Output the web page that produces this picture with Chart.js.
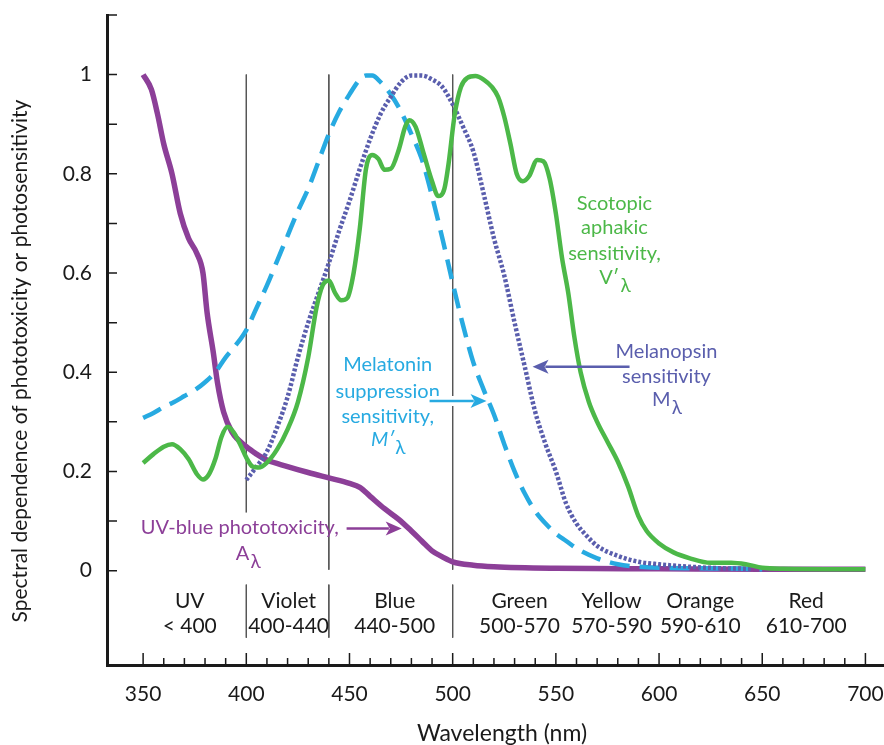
<!DOCTYPE html>
<html lang="en">
<head>
  <meta charset="UTF-8" />
  <title>Spectral dependence of phototoxicity or photosensitivity</title>
  <style>
    html, body { margin: 0; padding: 0; background: #fff; }
    #wrap { width: 884px; height: 745px; }
  </style>
</head>
<body>
  <div id="wrap"><canvas id="grafico" width="884" height="745"></canvas></div>

  <script src="https://cdn.jsdelivr.net/npm/chart.js"></script>
  <script>
    // UV-blue phototoxicity, A(lambda)
    const aWl  = [350, 354, 357, 360, 364, 368, 372, 376, 379, 381, 384, 386, 389, 393, 400, 405, 410, 420, 430, 440, 450, 455, 460, 467, 474, 480, 485, 490, 495, 500, 510, 520, 550, 600, 650, 700];
    const aVal = [1.0, 0.97, 0.92, 0.86, 0.8, 0.72, 0.67, 0.64, 0.6, 0.52, 0.44, 0.38, 0.32, 0.28, 0.25, 0.235, 0.223, 0.21, 0.198, 0.187, 0.176, 0.168, 0.15, 0.125, 0.103, 0.08, 0.06, 0.04, 0.028, 0.018, 0.011, 0.008, 0.005, 0.004, 0.003, 0.003];

    // Scotopic aphakic sensitivity, V'(lambda)
    const vWl  = [350, 355, 360, 364, 368, 372, 376, 379, 382, 385, 388, 391, 394, 397, 400, 403, 406, 410, 415, 420, 425, 430, 434, 437, 440, 443, 446, 449, 452, 455, 458, 461, 464, 467, 470, 474, 477, 479, 482, 486, 490, 493, 496, 498, 501, 504, 507, 511, 515, 519, 522, 525, 528, 531, 534, 537, 541, 544, 547, 550, 553, 556, 559, 562, 566, 570, 575, 580, 585, 590, 594, 600, 607, 615, 625, 635, 642, 650, 660, 700];
    const vVal = [0.217, 0.235, 0.25, 0.255, 0.245, 0.225, 0.195, 0.184, 0.195, 0.225, 0.27, 0.29, 0.278, 0.255, 0.228, 0.21, 0.208, 0.218, 0.245, 0.285, 0.34, 0.43, 0.53, 0.575, 0.585, 0.56, 0.545, 0.55, 0.6, 0.69, 0.81, 0.838, 0.83, 0.808, 0.81, 0.85, 0.895, 0.908, 0.895, 0.84, 0.785, 0.755, 0.77, 0.82, 0.92, 0.975, 0.993, 0.997, 0.99, 0.975, 0.955, 0.915, 0.86, 0.8, 0.785, 0.795, 0.828, 0.825, 0.79, 0.72, 0.63, 0.56, 0.47, 0.4, 0.34, 0.3, 0.26, 0.22, 0.17, 0.11, 0.08, 0.055, 0.037, 0.025, 0.016, 0.016, 0.013, 0.006, 0.004, 0.003];

    // Melatonin suppression sensitivity, M'(lambda)
    const mlWl  = [350, 355, 360, 365, 370, 375, 380, 385, 390, 395, 400, 405, 410, 415, 420, 425, 430, 435, 440, 445, 450, 455, 458, 461, 465, 470, 475, 480, 485, 490, 495, 500, 505, 510, 515, 520, 525, 530, 535, 540, 545, 550, 555, 560, 570, 580, 590, 600, 620, 640, 650];
    const mlVal = [0.308, 0.318, 0.33, 0.34, 0.352, 0.364, 0.38, 0.4, 0.43, 0.455, 0.485, 0.53, 0.575, 0.625, 0.675, 0.725, 0.77, 0.825, 0.88, 0.925, 0.96, 0.99, 0.998, 0.998, 0.985, 0.96, 0.925, 0.88, 0.83, 0.755, 0.67, 0.58, 0.495, 0.42, 0.365, 0.315, 0.255, 0.2, 0.155, 0.12, 0.095, 0.075, 0.06, 0.045, 0.025, 0.013, 0.008, 0.006, 0.005, 0.004, 0.003];

    // Melanopsin sensitivity, M(lambda)
    const mnWl  = [400, 405, 410, 415, 420, 425, 430, 435, 440, 445, 450, 455, 460, 465, 470, 475, 480, 485, 490, 495, 500, 505, 510, 515, 520, 525, 530, 535, 540, 545, 550, 555, 560, 565, 570, 580, 590, 600, 615, 630, 645];
    const mnVal = [0.183, 0.21, 0.24, 0.29, 0.35, 0.43, 0.5, 0.56, 0.62, 0.685, 0.745, 0.81, 0.87, 0.92, 0.955, 0.985, 0.998, 0.998, 0.99, 0.975, 0.94, 0.895, 0.845, 0.76, 0.67, 0.595, 0.5, 0.41, 0.32, 0.255, 0.2, 0.135, 0.095, 0.07, 0.05, 0.03, 0.018, 0.013, 0.008, 0.005, 0.004];

    // faixas de cor
    const bandLimits = [400, 440, 500];
    const bandNames  = ['UV', 'Violet', 'Blue', 'Green', 'Yellow', 'Orange', 'Red'];
    const bandRanges = ['< 400', '400-440', '440-500', '500-570', '570-590', '590-610', '610-700'];

    const xTicks = [350, 360, 370, 380, 390, 400, 410, 420, 430, 440, 450, 460, 470, 480, 490, 500, 510, 520, 530, 540, 550, 560, 570, 580, 590, 600, 610, 620, 630, 640, 650, 660, 670, 680, 690, 700];
    const yTicks = [0, 0.1, 0.2, 0.3, 0.4, 0.5, 0.6, 0.7, 0.8, 0.9, 1.0, 1.12];

    const FONT = 'Lato, "Open Sans", sans-serif';
    const PRETO = '#1a1a1a';
    const ROXO = '#8c3f98';
    const VERDE = '#4cb848';
    const AZUL = '#27aae1';
    const ANIL = '#5a5ead';

    const pares = (wl, val) => wl.map((w, i) => ({ x: w, y: val[i] }));

    // posicoes dos textos em coordenadas de dados (nm, valor)
    const bandLabelX = [372.6, 420.5, 471.9, 532.4, 577, 620, 671.3];
    const bandLabelY = [-0.062, -0.111];

    const rotulos = [
      { cor: VERDE, x: 578.4, y: [0.741, 0.691, 0.640], linhas: ['Scotopic', 'aphakic', 'sensitivity,'], sub: ['V′', 'λ', 0.590], italico: false },
      { cor: ANIL, x: 603.6, y: [0.441, 0.391], linhas: ['Melanopsin', 'sensitivity'], sub: ['M', 'λ', 0.344], italico: false },
      { cor: AZUL, x: 468.5, y: [0.415, 0.361, 0.310], linhas: ['Melatonin', 'suppression', 'sensitivity,'], sub: ['M′', 'λ', 0.264], italico: true },
      { cor: ROXO, x: 396.8, y: [0.087], linhas: ['UV-blue phototoxicity,'], sub: ['A', 'λ', 0.034], subX: 400.7, italico: false }
    ];

    const setas = [
      { cor: ROXO, x1: 448.6, x2: 475.3, y: 0.085, halo: false },
      { cor: AZUL, x1: 488.8, x2: 516.4, y: 0.342, halo: true },
      { cor: ANIL, x1: 585.7, x2: 538.7, y: 0.411, halo: false }
    ];

    function comIndice(ctx, main, sub, cx, cy, size, cor, italico) {
      const fMain = `${italico ? 'italic ' : ''}${size}px ${FONT}`;
      const fSub = `${size - 1}px ${FONT}`;
      ctx.font = fMain;
      const w1 = ctx.measureText(main).width;
      ctx.font = fSub;
      const w2 = ctx.measureText(sub).width;
      const x0 = cx - (w1 + w2) / 2;
      ctx.fillStyle = cor;
      ctx.textAlign = 'left';
      ctx.textBaseline = 'middle';
      ctx.font = fMain;
      ctx.fillText(main, x0, cy);
      ctx.font = fSub;
      ctx.fillText(sub, x0 + w1 + 1, cy + size * 0.4);
    }

    function desenhaSeta(ctx, x1, x2, y, cor, halo) {
      const dir = x2 > x1 ? 1 : -1;
      const cab = 16;
      ctx.save();
      if (halo) {
        ctx.strokeStyle = '#fff';
        ctx.lineWidth = 10;
        ctx.beginPath();
        ctx.moveTo(x1, y);
        ctx.lineTo(x2, y);
        ctx.stroke();
      }
      ctx.strokeStyle = cor;
      ctx.lineWidth = 2.5;
      ctx.beginPath();
      ctx.moveTo(x1, y);
      ctx.lineTo(x2 - dir * cab * 0.8, y);
      ctx.stroke();
      ctx.fillStyle = cor;
      ctx.beginPath();
      ctx.moveTo(x2, y);
      ctx.lineTo(x2 - dir * cab, y - 7);
      ctx.lineTo(x2 - dir * cab * 0.75, y);
      ctx.lineTo(x2 - dir * cab, y + 7);
      ctx.closePath();
      ctx.fill();
      ctx.restore();
    }

    const anotacoes = {
      id: 'anotacoes',
      afterDatasetsDraw(chart) {
        const { ctx, scales: { x, y }, chartArea } = chart;
        ctx.save();

        // marcas dos eixos para dentro
        ctx.strokeStyle = PRETO;
        ctx.lineWidth = 1.5;
        ctx.beginPath();
        x.ticks.forEach(t => {
          const px = x.getPixelForValue(t.value);
          const len = t.value % 50 === 0 ? 12 : 7;
          ctx.moveTo(px, chartArea.bottom);
          ctx.lineTo(px, chartArea.bottom - len);
        });
        y.ticks.forEach(t => {
          const py = y.getPixelForValue(t.value);
          ctx.moveTo(chartArea.left, py);
          ctx.lineTo(chartArea.left + 10, py);
        });
        ctx.stroke();

        // fundo branco do rotulo roxo
        const ry = y.getPixelForValue(rotulos[3].y[0]);
        ctx.fillStyle = '#fff';
        ctx.fillRect(x.getPixelForValue(rotulos[3].x) - 98, ry - 15, 183, 62);

        // faixas
        ctx.fillStyle = PRETO;
        ctx.textAlign = 'center';
        ctx.textBaseline = 'middle';
        ctx.font = `21px ${FONT}`;
        bandNames.forEach((n, i) => {
          const px = x.getPixelForValue(bandLabelX[i]);
          ctx.fillText(n, px, y.getPixelForValue(bandLabelY[0]));
          ctx.fillText(bandRanges[i], px, y.getPixelForValue(bandLabelY[1]));
        });

        // rotulos das curvas
        rotulos.forEach(r => {
          const px = x.getPixelForValue(r.x);
          ctx.fillStyle = r.cor;
          ctx.textAlign = 'center';
          ctx.textBaseline = 'middle';
          ctx.font = `20px ${FONT}`;
          r.linhas.forEach((l, i) => ctx.fillText(l, px, y.getPixelForValue(r.y[i])));
          const sx = x.getPixelForValue(r.subX || r.x);
          comIndice(ctx, r.sub[0], r.sub[1], sx, y.getPixelForValue(r.sub[2]), 20, r.cor, r.italico);
        });

        setas.forEach(s => desenhaSeta(ctx, x.getPixelForValue(s.x1), x.getPixelForValue(s.x2), y.getPixelForValue(s.y), s.cor, s.halo));

        // titulos dos eixos
        ctx.fillStyle = PRETO;
        ctx.textAlign = 'center';
        ctx.textBaseline = 'middle';
        ctx.font = `23px ${FONT}`;
        ctx.fillText('Wavelength (nm)', 502, 734);
        ctx.translate(20, 361);
        ctx.rotate(-Math.PI / 2);
        ctx.font = `21px ${FONT}`;
        ctx.fillText('Spectral dependence of phototoxicity or photosensitivity', 0, 0);

        ctx.restore();
      }
    };

    // linhas verticais entre faixas, com uma pequena quebra no zero
    const linhasFaixa = bandLimits.map(b => ({
      data: [{ x: b, y: 1.0 }, { x: b, y: 0.002 }, { x: b, y: null }, { x: b, y: -0.028 }, { x: b, y: -0.135 }],
      borderColor: '#555',
      borderWidth: 1,
      pointRadius: 0,
      spanGaps: false,
      order: 10
    }));

    const semPadding = s => { s.paddingLeft = 0; s.paddingRight = 0; s.paddingTop = 0; s.paddingBottom = 0; };

    new Chart(document.getElementById('grafico'), {
      type: 'line',
      data: {
        datasets: [
          ...linhasFaixa,
          { data: pares(aWl, aVal), borderColor: ROXO, borderWidth: 5.5, pointRadius: 0, cubicInterpolationMode: 'monotone', order: 5 },
          { data: pares(mlWl, mlVal), borderColor: AZUL, borderWidth: 4.5, borderDash: [20, 10], pointRadius: 0, cubicInterpolationMode: 'monotone', order: 4 },
          { data: pares(mnWl, mnVal), borderColor: ANIL, borderWidth: 4.5, borderDash: [3, 2], pointRadius: 0, cubicInterpolationMode: 'monotone', order: 3 },
          { data: pares(vWl, vVal), borderColor: VERDE, borderWidth: 4.5, pointRadius: 0, cubicInterpolationMode: 'monotone', order: 2 }
        ]
      },
      options: {
        responsive: false,
        animation: false,
        devicePixelRatio: 1,
        layout: { padding: { top: 15, right: 0, left: 0, bottom: 0 } },
        plugins: { legend: { display: false }, tooltip: { enabled: false } },
        scales: {
          x: {
            type: 'linear',
            min: 332.5,
            max: 709,
            afterBuildTicks: s => { s.ticks = xTicks.map(v => ({ value: v })); },
            afterFit: s => { s.height = 80; semPadding(s); },
            grid: { display: false, drawTicks: false },
            border: { display: true, color: PRETO, width: 3 },
            ticks: {
              padding: 17,
              maxRotation: 0,
              autoSkip: false,
              color: PRETO,
              font: { family: FONT, size: 21 },
              callback: v => (v % 50 === 0 ? String(v) : '')
            }
          },
          y: {
            type: 'linear',
            min: -0.19,
            max: 1.12,
            afterBuildTicks: s => { s.ticks = yTicks.map(v => ({ value: v })); },
            afterFit: s => { s.width = 107; semPadding(s); },
            grid: { display: false, drawTicks: false },
            border: { display: true, color: PRETO, width: 3 },
            ticks: {
              padding: 15,
              autoSkip: false,
              color: PRETO,
              font: { family: FONT, size: 21 },
              callback: v => {
                if (v > 1.001) return '';
                const k = Math.round(v * 10);
                if (k % 2 !== 0) return '';
                return k === 0 ? '0' : k === 10 ? '1' : (k / 10).toFixed(1);
              }
            }
          }
        }
      },
      plugins: [anotacoes]
    });
  </script>
</body>
</html>
